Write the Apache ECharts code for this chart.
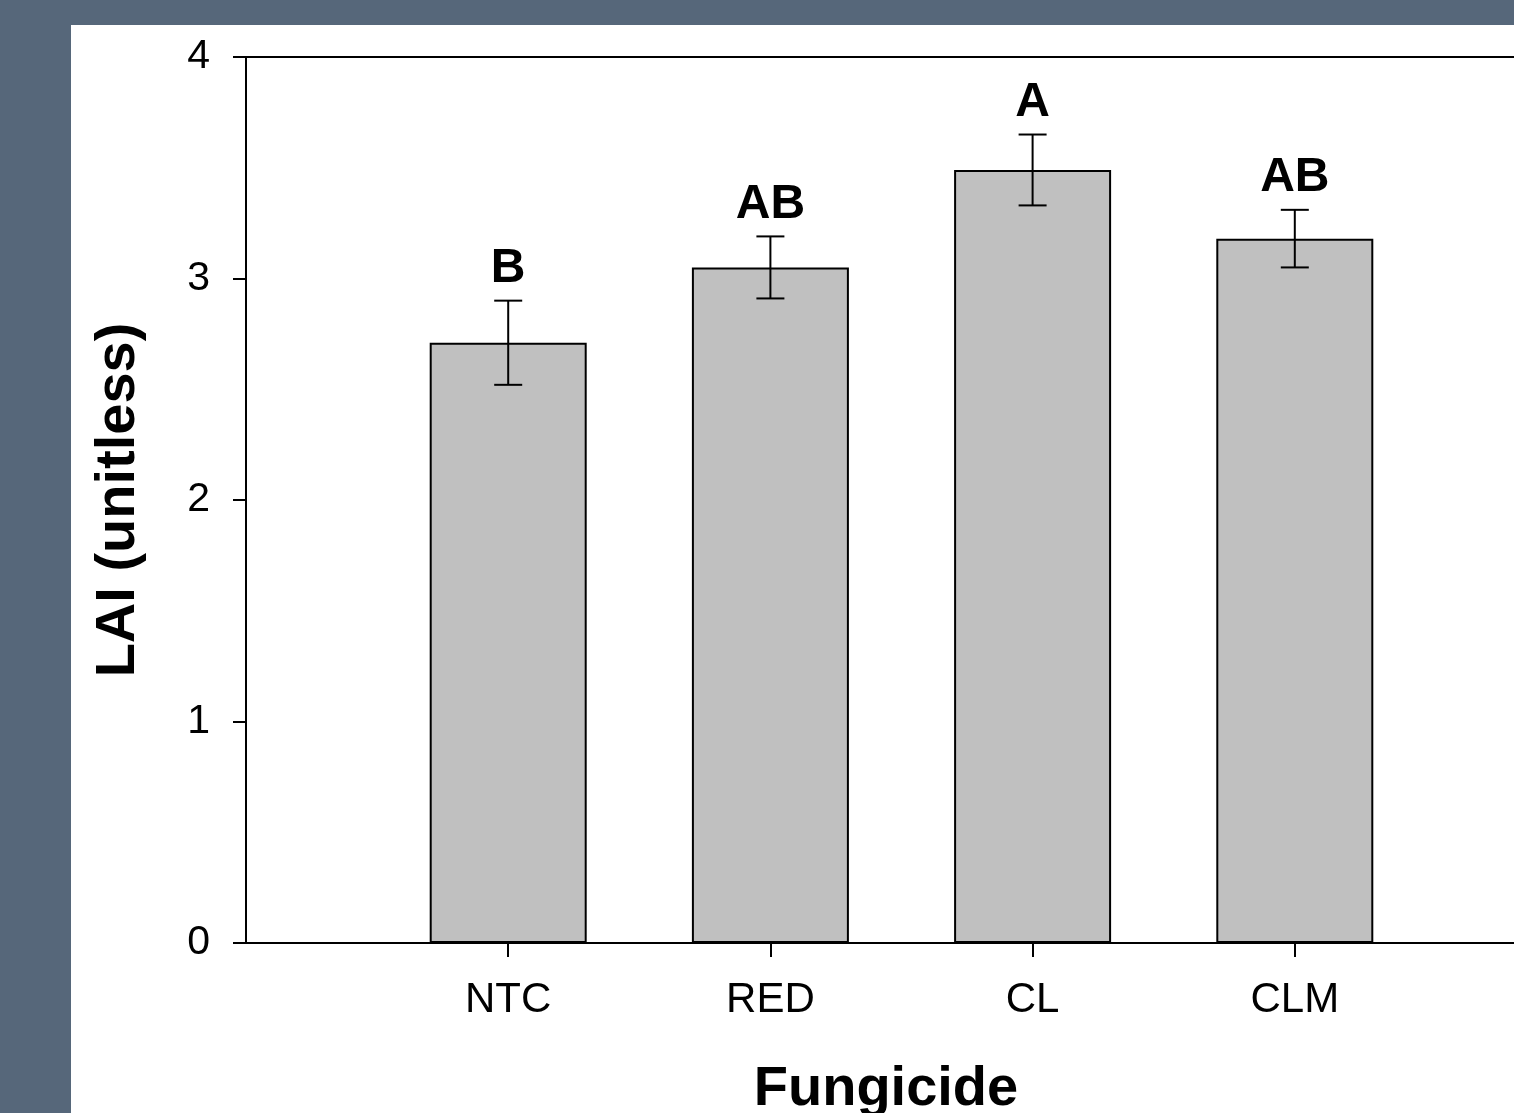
<!DOCTYPE html>
<html>
<head>
<meta charset="utf-8">
<script src="https://cdn.jsdelivr.net/npm/echarts@6/dist/echarts.min.js"></script>
<style>
  html, body { margin: 0; padding: 0; width: 1514px; height: 1113px; overflow: hidden; background: #56677a; }
  #chart { position: absolute; left: 71px; top: 25px; width: 1443px; height: 1088px; background: #ffffff; }
</style>
</head>
<body>
<div id="chart"></div>
<script>
// Leaf area index by fungicide treatment (mean ± standard error)
const categories = ['NTC', 'RED', 'CL', 'CLM'];
const laiMean = [2.71, 3.05, 3.49, 3.18];
const laiErr = [0.19, 0.14, 0.16, 0.13];
const groupLetters = ['B', 'AB', 'A', 'AB'];
const yTicks = [0, 1, 2, 3, 4];

const FONT = '"Liberation Sans", Arial, Helvetica, sans-serif';

// bars sit at positions 1..n on a numeric axis that runs 0..n+1
const pos = categories.map((c, i) => i + 1);
const barData = pos.map((p, i) => [p, laiMean[i]]);
const errData = pos.map((p, i) => [p, laiMean[i], laiErr[i]]);
const letterData = pos.map((p, i) => ({ value: [p, laiMean[i] + laiErr[i]], letter: groupLetters[i] }));

const chart = echarts.init(document.getElementById('chart'), null, { renderer: 'canvas' });

const axisLineStyle = { color: '#000', width: 2 };

chart.setOption({
  animation: false,
  backgroundColor: '#ffffff',
  grid: {
    left: 175, top: 32, width: 1311, bottom: 170,
    outerBoundsMode: 'none', containLabel: false
  },
  xAxis: [
    {
      type: 'value',
      min: 0, max: categories.length + 1, interval: 1,
      position: 'bottom',
      axisLine: { show: true, onZero: false, lineStyle: axisLineStyle },
      axisTick: { show: true, inside: false, length: 14, lineStyle: axisLineStyle, customValues: pos },
      axisLabel: {
        show: true, margin: 36, color: '#000', fontSize: 42, fontFamily: FONT,
        customValues: pos,
        formatter: v => categories[Math.round(v) - 1] || ''
      },
      splitLine: { show: false }
    },
    {
      type: 'value',
      min: 0, max: categories.length + 1,
      position: 'top',
      axisLine: { show: true, onZero: false, lineStyle: axisLineStyle },
      axisTick: { show: false },
      axisLabel: { show: false },
      splitLine: { show: false }
    }
  ],
  yAxis: {
    type: 'value',
    min: yTicks[0], max: yTicks[yTicks.length - 1], interval: 1,
    axisLine: { show: true, onZero: false, lineStyle: axisLineStyle },
    axisTick: { show: true, inside: false, length: 13, lineStyle: axisLineStyle },
    axisLabel: { show: true, margin: 36, color: '#000', fontSize: 41, fontFamily: FONT },
    splitLine: { show: false }
  },
  series: [
    {
      type: 'bar',
      xAxisIndex: 0,
      data: barData,
      barWidth: 157,
      itemStyle: { color: '#c0c0c0', borderColor: '#000', borderWidth: 2 },
      z: 2
    },
    {
      type: 'custom',
      xAxisIndex: 0,
      data: errData,
      z: 3,
      renderItem: function (params, api) {
        const x = api.value(0), m = api.value(1), e = api.value(2);
        const top = api.coord([x, m + e]);
        const bot = api.coord([x, m - e]);
        const half = 14;
        const style = { stroke: '#000', lineWidth: 2 };
        return {
          type: 'group',
          children: [
            { type: 'line', shape: { x1: top[0], y1: top[1], x2: bot[0], y2: bot[1] }, style },
            { type: 'line', shape: { x1: top[0] - half, y1: top[1], x2: top[0] + half, y2: top[1] }, style },
            { type: 'line', shape: { x1: bot[0] - half, y1: bot[1], x2: bot[0] + half, y2: bot[1] }, style }
          ]
        };
      }
    },
    {
      type: 'scatter',
      xAxisIndex: 0,
      data: letterData,
      symbolSize: 0,
      itemStyle: { opacity: 1 },
      z: 4,
      label: {
        show: true, position: 'top', distance: 8,
        color: '#000', opacity: 1, textBorderWidth: 0,
        fontSize: 48, fontWeight: 'bold', fontFamily: FONT,
        formatter: p => p.data.letter
      }
    }
  ],
  graphic: [
    {
      type: 'text', x: 815, y: 1065,
      style: { text: 'Fungicide', fill: '#000', font: 'bold 56px ' + FONT, textAlign: 'center', textVerticalAlign: 'middle' }
    },
    {
      type: 'text', x: 48, y: 475, rotation: Math.PI / 2,
      style: { text: 'LAI (unitless)', fill: '#000', font: 'bold 56px ' + FONT, textAlign: 'center', textVerticalAlign: 'middle' }
    }
  ]
});
</script>
</body>
</html>
